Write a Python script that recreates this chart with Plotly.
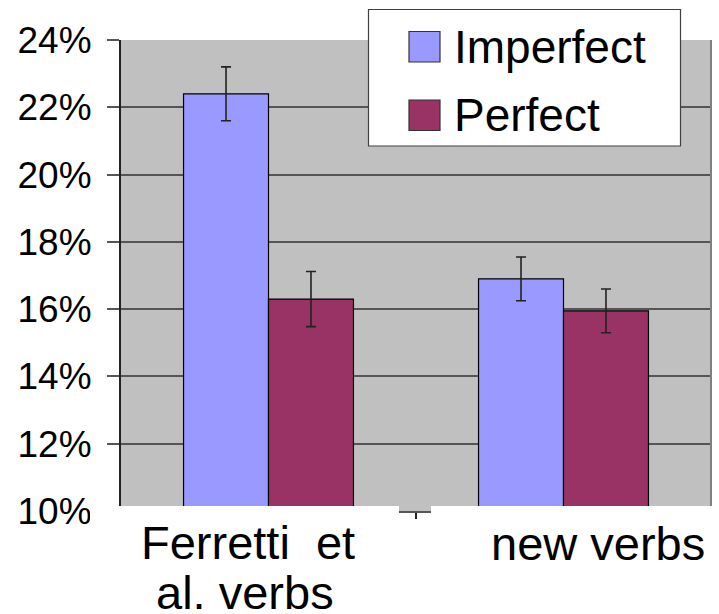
import plotly.graph_objects as go

# ---- data ----
categories = ["Ferretti  et al. verbs", "new verbs"]
category_lines = [["Ferretti\u00a0\u00a0et", "al. verbs"], ["new verbs"]]
series_names = ["Imperfect", "Perfect"]
imperfect = [0.224, 0.169]
imperfect_err = [0.008, 0.0065]
perfect = [0.163, 0.1595]
perfect_err = [0.0082, 0.0065]
tick_vals = [0.10, 0.12, 0.14, 0.16, 0.18, 0.20, 0.22, 0.24]
tick_text = ["10%", "12%", "14%", "16%", "18%", "20%", "22%", "24%"]

colors = ["#9999FF", "#993366"]
FONT = "Liberation Sans, Arial, sans-serif"

W, H = 719, 614
L, R, T, B = 121, 8, 40, 103
PW, PH = W - L - R, H - T - B


def px(x):
    return (x - L) / PW


def py(y):
    return (H - B - y) / PH


fig = go.Figure()
for name, vals, errs, col in [
    (series_names[0], imperfect, imperfect_err, colors[0]),
    (series_names[1], perfect, perfect_err, colors[1]),
]:
    fig.add_trace(go.Bar(
        name=name, x=categories, y=vals,
        marker=dict(color=col, line=dict(color="#000000", width=1.2)),
        error_y=dict(type="data", array=errs, visible=True,
                     color="#222222", thickness=1.6, width=5),
        showlegend=False,
    ))

shapes = []
# right border of plot area
shapes.append(dict(type="line", xref="paper", yref="paper", x0=1, x1=1, y0=0, y1=1,
                   line=dict(color="#808080", width=2), layer="above"))
# white label boxes covering the bottom strip
shapes.append(dict(type="rect", xref="paper", yref="paper",
                   x0=px(90), x1=px(399), y0=py(530), y1=py(506),
                   fillcolor="white", line=dict(width=0), layer="above"))
shapes.append(dict(type="rect", xref="paper", yref="paper",
                   x0=px(431), x1=px(719), y0=py(530), y1=py(506),
                   fillcolor="white", line=dict(width=0), layer="above"))
# legend box
shapes.append(dict(type="rect", xref="paper", yref="paper",
                   x0=px(368.5), x1=px(680.5), y0=py(146), y1=py(9.5),
                   fillcolor="white", line=dict(color="#404040", width=1.2), layer="above"))
legend_rows = [(31.5, 62, 47), (100, 130.5, 115)]
annotations = []
for (y0, y1, yc), name, col in zip(legend_rows, series_names, colors):
    shapes.append(dict(type="rect", xref="paper", yref="paper",
                       x0=px(409), x1=px(440), y0=py(y1), y1=py(y0),
                       fillcolor=col, line=dict(color="#333333", width=1.2), layer="above"))
    annotations.append(dict(text=name, xref="paper", yref="paper", x=px(452), y=py(yc),
                            xanchor="left", yanchor="middle", showarrow=False,
                            font=dict(family=FONT, size=46, color="black")))

# category labels
label_pos = [[(-21, 542), (-24, 592)], [(34, 543)]]
for cat, lines, pos in zip(categories, category_lines, label_pos):
    for text, (xs, yc) in zip(lines, pos):
        annotations.append(dict(text=text, xref="x", yref="paper", x=cat, y=py(yc),
                                xshift=xs, xanchor="center", yanchor="middle",
                                showarrow=False,
                                font=dict(family=FONT, size=47, color="black")))

fig.update_layout(
    width=W, height=H,
    margin=dict(l=L, r=R, t=T, b=B),
    paper_bgcolor="white", plot_bgcolor="#C0C0C0",
    barmode="group", bargap=0.424, bargroupgap=0,
    font=dict(family=FONT, color="black"),
    shapes=shapes, annotations=annotations,
)
fig.update_xaxes(
    type="category", range=[-0.5, 1.5], showticklabels=False,
    showline=True, linecolor="#555555", linewidth=2,
    ticks="outside", tickson="boundaries", ticklen=6, tickcolor="#222222", tickwidth=1.5,
    showgrid=False, zeroline=False,
)
fig.update_yaxes(
    range=[0.10, 0.24], tickvals=tick_vals, ticktext=tick_text,
    showline=True, linecolor="#222222", linewidth=2,
    ticks="outside", ticklen=12, tickcolor="#555555", tickwidth=1.5,
    showgrid=True, gridcolor="#555555", gridwidth=1.5,
    tickfont=dict(family=FONT, size=37, color="black"),
    ticklabelstandoff=8, zeroline=False,
)

fig.write_html(
    "out.html",
    config={"displayModeBar": False},
    post_script="document.body.style.margin='0';document.body.style.overflow='hidden';",
)
